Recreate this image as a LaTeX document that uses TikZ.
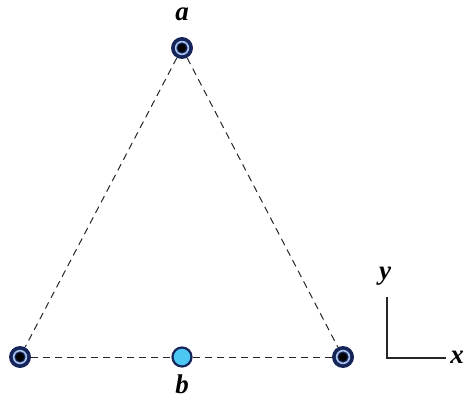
\documentclass[tikz,border=0pt]{standalone}
\usepackage{fontspec}
\setmainfont{Liberation Serif}
\definecolor{navy}{HTML}{15255A}
\definecolor{ringblue}{HTML}{A8C4EC}
\definecolor{cyanfill}{HTML}{4CC6F2}
\begin{document}
\begin{tikzpicture}[x=1pt,y=-1pt,
  site/.style={circle,fill=navy,minimum size=22pt,inner sep=0pt,
    path picture={
      \fill[ringblue] (path picture bounding box.center) circle (7.2pt);
      \fill[navy] (path picture bounding box.center) circle (5.6pt);
      \fill[black] (path picture bounding box.center) circle (4.2pt);}},
  bsite/.style={circle,draw=navy,line width=2.2pt,fill=cyanfill,minimum size=19pt,inner sep=0pt},
  bond/.style={dash pattern=on 7pt off 5pt,line width=1pt,black!85},
  lbl/.style={font=\bfseries\itshape\fontsize{27}{27}\selectfont,inner sep=0pt},
  axis/.style={line width=1.8pt,black!85}]
\useasboundingbox (0,0) rectangle (465,403);
\node[site] (a) at (182,48) {};
\node[site] (l) at (20,357) {};
\node[site] (r) at (343,357) {};
\node[bsite] (b) at (182,357) {};
\draw[bond] (a) -- (l);
\draw[bond] (a) -- (r);
\draw[bond] (l) -- (b);
\draw[bond] (b) -- (r);
\node[lbl] (la) at (182,14) {a};
\node[lbl] (lb) at (182,384) {b};
\coordinate (o) at (387,358);
\coordinate (ytip) at (387,297);
\coordinate (xtip) at (446,358);
\draw[axis] (ytip) -- (o) -- (xtip);
\node[lbl] (ly) at (385,276) {y};
\node[lbl] (lx) at (457,357) {x};
\end{tikzpicture}
\end{document}
